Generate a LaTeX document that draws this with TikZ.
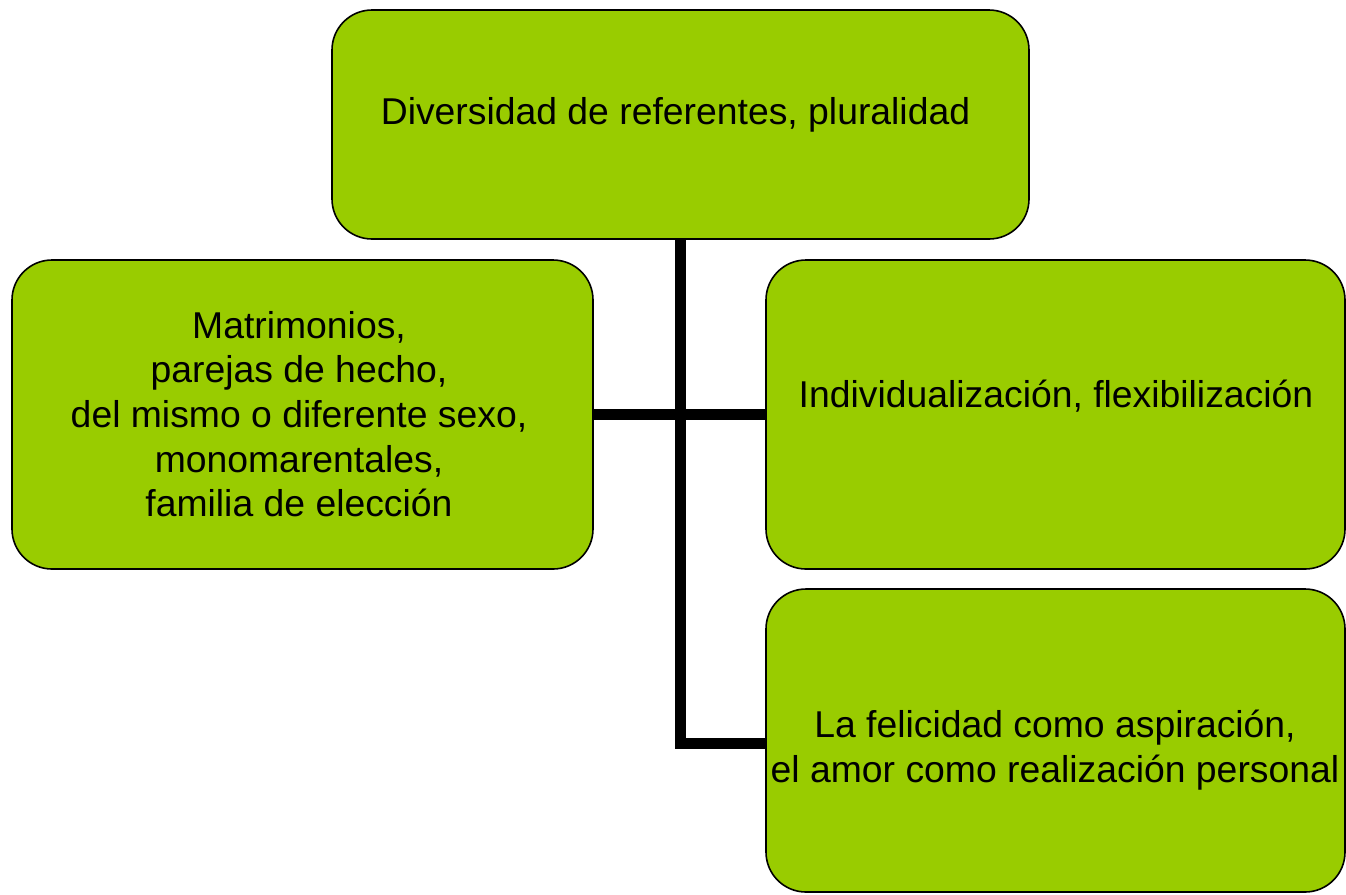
\documentclass[tikz,border=0pt]{standalone}
\usepackage{fontspec}
\setmainfont{Liberation Sans}
\usetikzlibrary{positioning}

\definecolor{leafgreen}{HTML}{99CC00}

\tikzset{
  greenbox/.style={draw=black, line width=1.2pt, fill=leafgreen,
    rounded corners=30pt, inner sep=0pt},
  boxtext/.style={align=center, font=\fontsize{28}{33.5}\selectfont, inner sep=0pt},
  branch/.style={line width=8.4pt}
}

\begin{document}
\begin{tikzpicture}[x=0.75pt, y=-0.75pt]
    \useasboundingbox (0,0) rectangle (1346,894);
    % boxes
    \node[greenbox, minimum width=522.75pt, minimum height=171.75pt] (top) at (680.5,124.5) {};
    \node[greenbox, minimum width=435.75pt, minimum height=231.75pt] (left) at (302.5,414.5) {};
    \node[greenbox, minimum width=434.25pt, minimum height=231.75pt] (right) at (1055.5,414.5) {};
    \node[greenbox, minimum width=434.25pt, minimum height=227.25pt] (low) at (1055.5,740.5) {};
    % connectors
    \coordinate (bend) at ([yshift=-2.25pt]low.west);
    \draw[branch] (top.south) |- (bend);
    \draw[branch] (left.east) -- (right.west);
    % texts
    \node[boxtext] (toptext) at (675.5,115) {Diversidad de referentes, pluralidad};
    \node[boxtext] (lefttext) at (299,414) {Matrimonios,\\parejas de hecho,\\del mismo o diferente sexo,\\monomarentales,\\familia de elección};
    \node[boxtext] (righttext) at (1056,396) {Individualización, flexibilización};
    \node[boxtext] (lowtext) at (1055,750) {La felicidad como aspiración,\\el amor como realización personal};
\end{tikzpicture}
\end{document}
